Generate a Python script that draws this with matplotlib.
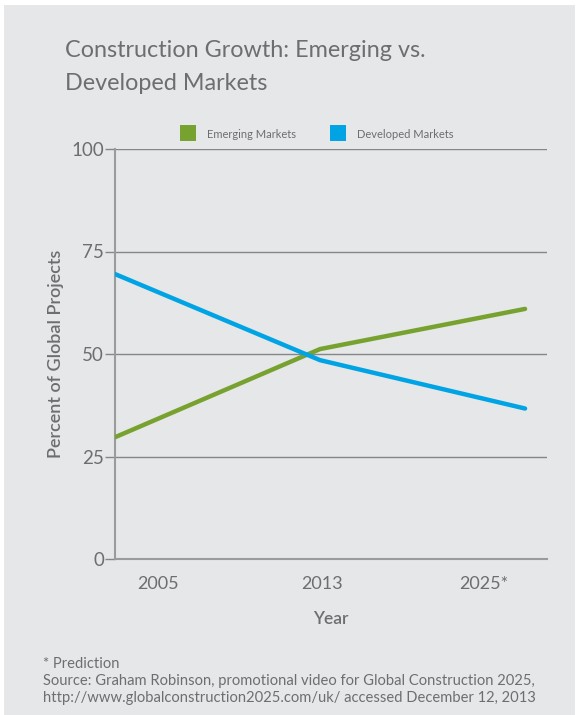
import matplotlib.pyplot as plt
from matplotlib.patches import Rectangle

years = ["2005", "2013", "2025*"]
emerging = [29.7, 51.2, 61.0]
developed = [69.5, 48.5, 36.7]
y_ticks = [0, 25, 50, 75, 100]

bg = "#e6e7e8"
grey = "#6d6e70"
green = "#78a22f"
blue = "#00a4e4"

plt.rcParams['font.family'] = ['Lato', 'DejaVu Sans']

fig = plt.figure(figsize=(5.8, 7.15), dpi=100)
fig.patch.set_facecolor("white")
fig.patches.append(Rectangle((4 / 580, 0), 571 / 580, 1 - 5 / 715, transform=fig.transFigure,
                             facecolor=bg, edgecolor="none", zorder=-10))

ax = fig.add_axes([115 / 580, 1 - 559 / 715, 432 / 580, 410 / 715])
ax.patch.set_alpha(0)

x = list(range(len(years)))
ax.plot(x, emerging, color=green, lw=3.2, solid_capstyle="round", label="Emerging Markets", zorder=3)
ax.plot(x, developed, color=blue, lw=3.2, solid_capstyle="round", label="Developed Markets", zorder=3)

ax.set_xlim(0, 2.107)
ax.set_ylim(0, 100)
ax.set_yticks(y_ticks)
ax.set_yticklabels([str(v) for v in y_ticks], fontsize=13.5, color=grey)
for v in y_ticks[1:]:
    ax.axhline(v, color="#858688", lw=1, zorder=1)

# category labels sit a little apart from the data points, as in the original
ax.set_xticks([0.21, 1.01, 1.80])
ax.set_xticklabels(years, fontsize=13, color=grey)
ax.tick_params(axis="x", length=0, pad=12)
ax.tick_params(axis="y", length=7, color="#858688", width=1, pad=1)

for s in ["top", "right"]:
    ax.spines[s].set_visible(False)
for s in ["left", "bottom"]:
    ax.spines[s].set_color("#9a9b9d")
    ax.spines[s].set_linewidth(1.5)

ax.set_ylabel("Percent of Global Projects", fontsize=13, color=grey, fontweight="semibold", labelpad=5)
ax.set_xlabel("Year", fontsize=12.5, color=grey, fontweight="semibold", labelpad=14)

leg = ax.legend(loc="lower left", bbox_to_anchor=(0.133, 1.0), ncol=2, frameon=False,
                fontsize=8, handlelength=1.4, handleheight=1.4, columnspacing=3.1,
                handletextpad=1.0, borderaxespad=0.3)
for h in leg.legend_handles:
    h.set_linewidth(11.5)
    h.set_solid_capstyle("butt")
for t in leg.get_texts():
    t.set_color(grey)

fig.text(65 / 580, 1 - 67 / 715, "Construction Growth: Emerging vs.\nDeveloped Markets",
         fontsize=16.8, color=grey, va="center", ha="left", linespacing=1.75)

fig.text(43 / 580, 1 - 681 / 715,
         "* Prediction\nSource: Graham Robinson, promotional video for Global Construction 2025,\n"
         "http://www.globalconstruction2025.com/uk/ accessed December 12, 2013",
         fontsize=10.6, color=grey, va="center", ha="left", linespacing=1.3)

fig.savefig("out.png", dpi=100, facecolor=fig.get_facecolor())
